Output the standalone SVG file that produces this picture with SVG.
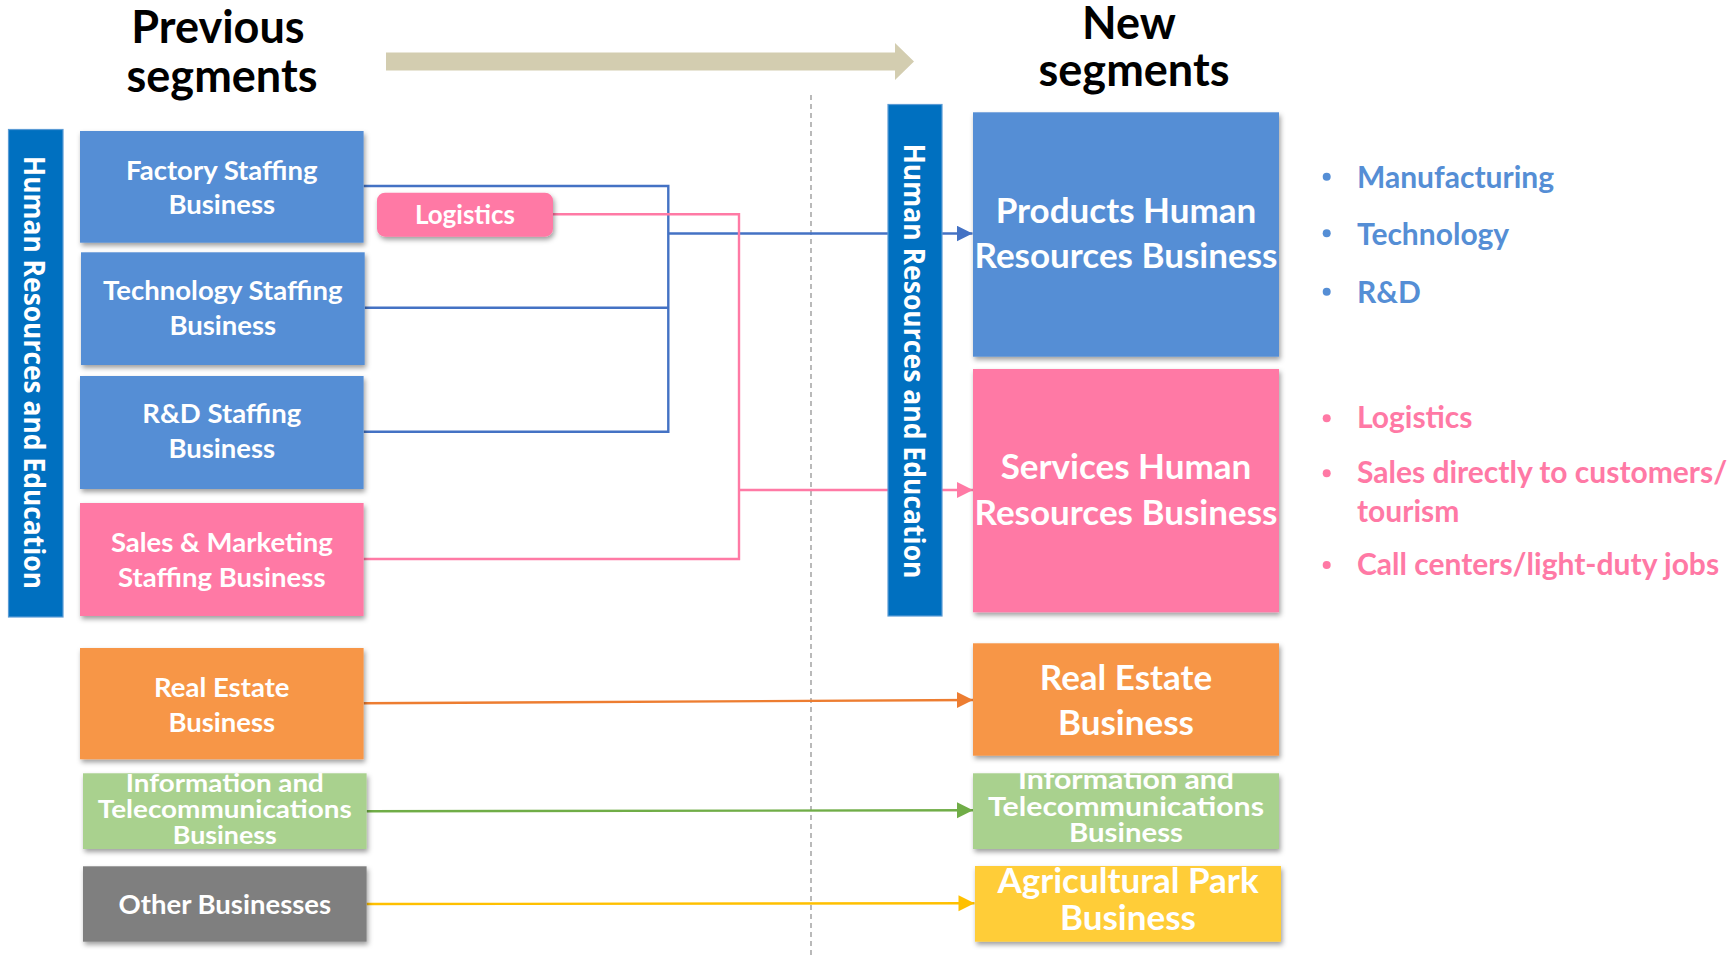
<svg xmlns="http://www.w3.org/2000/svg" width="1736" height="955" viewBox="0 0 1736 955">
  <defs>
    <filter id="shadow" x="-10%" y="-10%" width="125%" height="130%">
      <feDropShadow dx="1.5" dy="3" stdDeviation="2.5" flood-color="#000000" flood-opacity="0.38"/>
    </filter>
    <marker id="ah-blue" markerUnits="userSpaceOnUse" markerWidth="18" markerHeight="18" refX="16" refY="8" orient="auto">
      <path d="M0,0 L16,8 L0,16 Z" fill="#4472C4"/>
    </marker>
    <marker id="ah-pink" markerUnits="userSpaceOnUse" markerWidth="18" markerHeight="18" refX="16" refY="8" orient="auto">
      <path d="M0,0 L16,8 L0,16 Z" fill="#FF7AA5"/>
    </marker>
    <marker id="ah-orange" markerUnits="userSpaceOnUse" markerWidth="18" markerHeight="18" refX="16" refY="8" orient="auto">
      <path d="M0,0 L16,8 L0,16 Z" fill="#ED7D31"/>
    </marker>
    <marker id="ah-green" markerUnits="userSpaceOnUse" markerWidth="18" markerHeight="18" refX="16" refY="8" orient="auto">
      <path d="M0,0 L16,8 L0,16 Z" fill="#70AD47"/>
    </marker>
    <marker id="ah-yellow" markerUnits="userSpaceOnUse" markerWidth="18" markerHeight="18" refX="16" refY="8" orient="auto">
      <path d="M0,0 L16,8 L0,16 Z" fill="#FFC000"/>
    </marker>
  </defs>
  <style>
    text { font-family: Lato, "Open Sans", sans-serif; font-weight: bold; }
    .title { font-size: 45px; fill: #000000; text-anchor: middle; }
    .lbl { font-size: 27.5px; fill: #FFFFFF; text-anchor: middle; }
    .lbl-s { font-size: 25.5px; fill: #FFFFFF; text-anchor: middle; }
    .big { font-size: 35px; fill: #FFFFFF; text-anchor: middle; }
    .big-s { font-size: 27px; fill: #FFFFFF; text-anchor: middle; }
    .bar { fill: #0070C0; stroke: #5B9BD5; stroke-width: 1.2; }
    .bar-txt { font-family: "Open Sans", "Noto Sans", sans-serif; font-weight: bold; font-size: 29px; fill: #FFFFFF; }
    .box { filter: url(#shadow); }
    .blue { fill: #558ED5; }
    .pink { fill: #FF79A5; }
    .orange { fill: #F79646; }
    .green { fill: #A9D18E; }
    .gray { fill: #7F7F7F; }
    .yellow { fill: #FFCD37; }
    .wire { fill: none; stroke-width: 2.4; }
    .bullet-blue { font-size: 30px; fill: #558ED5; }
    .bullet-pink { font-size: 30px; fill: #FF79A5; }
  </style>

  <rect width="1736" height="955" fill="#FFFFFF"/>

  <!-- headings and direction arrow -->
  <g id="heading-previous">
    <text class="title" x="218" y="43">Previous</text>
    <text class="title" x="222" y="92">segments</text>
  </g>
  <g id="heading-new">
    <text class="title" x="1129" y="39">New</text>
    <text class="title" x="1134" y="86">segments</text>
  </g>
  <polygon id="direction-arrow" points="386,52.5 895,52.5 895,43 914,61.5 895,80 895,70.5 386,70.5" fill="#D3CDB0"/>

  <!-- divider between old and new -->
  <line id="divider" x1="811" y1="95" x2="811" y2="955" stroke="#8C8C8C" stroke-width="1.2" stroke-dasharray="5 4"/>

  <!-- connectors -->
  <g id="connectors">
    <path class="wire" stroke="#4472C4" d="M363.6,186 H668.3 V431.7 H363.6"/>
    <path class="wire" stroke="#4472C4" d="M364.7,307.7 H668.3"/>
    <path class="wire" stroke="#4472C4" d="M668.3,233.5 H972.5" marker-end="url(#ah-blue)"/>
    <path class="wire" stroke="#FF7AA5" d="M553,214.3 H739 V559 H363.6"/>
    <path class="wire" stroke="#FF7AA5" d="M739,490 H973" marker-end="url(#ah-pink)"/>
    <path class="wire" stroke="#ED7D31" d="M363.6,703.3 L973,700" marker-end="url(#ah-orange)"/>
    <path class="wire" stroke="#70AD47" d="M366.6,811.3 L973,810.3" marker-end="url(#ah-green)"/>
    <path class="wire" stroke="#FFC000" d="M366.6,904 L974.5,903.3" marker-end="url(#ah-yellow)"/>
  </g>

  <!-- previous segments -->
  <g id="hr-bar-previous">
    <rect class="bar" x="8.5" y="129.5" width="54.5" height="487.5"/>
    <text class="bar-txt" transform="translate(24,156) rotate(90)" textLength="433" lengthAdjust="spacingAndGlyphs">Human Resources and Education</text>
  </g>
  <g id="factory-staffing">
    <rect class="box blue" x="80" y="131" width="283.6" height="111.7"/>
    <text class="lbl" x="221.8" y="179.5">Factory Staffing</text>
    <text class="lbl" x="221.8" y="213.5">Business</text>
  </g>
  <g id="logistics">
    <rect class="box pink" x="377" y="192.7" width="176" height="44" rx="8" ry="8"/>
    <text class="lbl" x="465" y="224" style="font-size:26px">Logistics</text>
  </g>
  <g id="technology-staffing">
    <rect class="box blue" x="81" y="252.3" width="283.7" height="112.7"/>
    <text class="lbl" x="222.8" y="300">Technology Staffing</text>
    <text class="lbl" x="222.8" y="334.5">Business</text>
  </g>
  <g id="rd-staffing">
    <rect class="box blue" x="80" y="376" width="283.6" height="113"/>
    <text class="lbl" x="221.8" y="423">R&amp;D Staffing</text>
    <text class="lbl" x="221.8" y="458">Business</text>
  </g>
  <g id="sales-marketing-staffing">
    <rect class="box pink" x="80" y="503" width="283.6" height="113"/>
    <text class="lbl" x="221.8" y="551.7">Sales &amp; Marketing</text>
    <text class="lbl" x="221.8" y="586.7">Staffing Business</text>
  </g>
  <g id="real-estate-previous">
    <rect class="box orange" x="80" y="648" width="283.6" height="111.3"/>
    <text class="lbl" x="221.8" y="696.7">Real Estate</text>
    <text class="lbl" x="221.8" y="731.7">Business</text>
  </g>
  <g id="info-telecom-previous">
    <rect class="box green" x="83" y="773.3" width="283.6" height="75.7"/>
    <text class="lbl-s" x="224.8" y="791.7" textLength="198" lengthAdjust="spacingAndGlyphs">Information and</text>
    <text class="lbl-s" x="224.8" y="817.7" textLength="254" lengthAdjust="spacingAndGlyphs">Telecommunications</text>
    <text class="lbl-s" x="224.8" y="844" textLength="104" lengthAdjust="spacingAndGlyphs">Business</text>
  </g>
  <g id="other-businesses">
    <rect class="box gray" x="83" y="866.3" width="283.6" height="75.4"/>
    <text class="lbl" x="224.8" y="914.3">Other Businesses</text>
  </g>

  <!-- new segments -->
  <g id="hr-bar-new">
    <rect class="bar" x="888" y="104.5" width="54" height="511.5"/>
    <text class="bar-txt" transform="translate(904,143.5) rotate(90)" textLength="435" lengthAdjust="spacingAndGlyphs">Human Resources and Education</text>
  </g>
  <g id="products-hr">
    <rect class="box blue" x="973" y="112.3" width="306" height="244.4"/>
    <text class="big" x="1126" y="223.3">Products Human</text>
    <text class="big" x="1126" y="268.3">Resources Business</text>
  </g>
  <g id="services-hr">
    <rect class="box pink" x="973" y="369" width="306" height="243.3"/>
    <text class="big" x="1126" y="479.3">Services Human</text>
    <text class="big" x="1126" y="525">Resources Business</text>
  </g>
  <g id="real-estate-new">
    <rect class="box orange" x="973" y="643.3" width="306" height="112.4"/>
    <text class="big" x="1126" y="690">Real Estate</text>
    <text class="big" x="1126" y="735">Business</text>
  </g>
  <g id="info-telecom-new">
    <rect class="box green" x="973" y="773.3" width="306" height="75.7"/>
    <text class="big-s" x="1126" y="789.3" textLength="216" lengthAdjust="spacingAndGlyphs">Information and</text>
    <text class="big-s" x="1126" y="816" textLength="276" lengthAdjust="spacingAndGlyphs">Telecommunications</text>
    <text class="big-s" x="1126" y="842" textLength="114" lengthAdjust="spacingAndGlyphs">Business</text>
  </g>
  <g id="agricultural-park">
    <rect class="box yellow" x="975" y="866" width="306" height="75.7"/>
    <text class="big" x="1128" y="893.3">Agricultural Park</text>
    <text class="big" x="1128" y="930">Business</text>
  </g>

  <!-- scope lists -->
  <g id="products-scope">
    <circle cx="1326.7" cy="176.7" r="4" fill="#558ED5"/>
    <circle cx="1326.7" cy="233.3" r="4" fill="#558ED5"/>
    <circle cx="1326.7" cy="291.7" r="4" fill="#558ED5"/>
    <text class="bullet-blue" x="1357" y="188.3">Manufacturing</text>
    <text class="bullet-blue" x="1357" y="245">Technology</text>
    <text class="bullet-blue" x="1357" y="302.7">R&amp;D</text>
  </g>
  <g id="services-scope">
    <circle cx="1326.7" cy="418.3" r="4" fill="#FF79A5"/>
    <circle cx="1326.7" cy="473.3" r="4" fill="#FF79A5"/>
    <circle cx="1326.7" cy="565" r="4" fill="#FF79A5"/>
    <text class="bullet-pink" x="1357" y="428.3">Logistics</text>
    <text class="bullet-pink" x="1357" y="483.3">Sales directly to customers/</text>
    <text class="bullet-pink" x="1357" y="521.7">tourism</text>
    <text class="bullet-pink" x="1357" y="575">Call centers/light-duty jobs</text>
  </g>
</svg>
